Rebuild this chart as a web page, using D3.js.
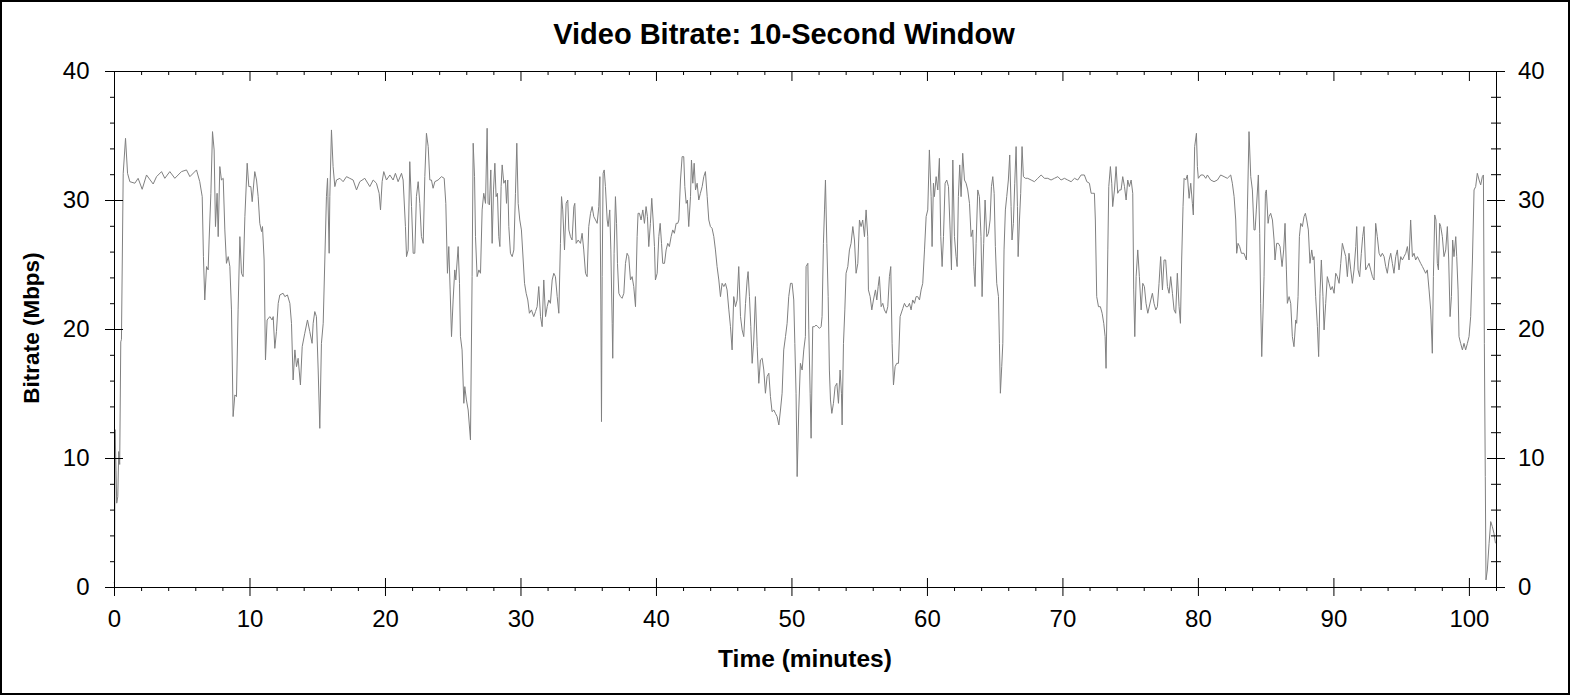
<!DOCTYPE html>
<meta charset="utf-8">
<body style="margin:0; background:#fff">
<script src="https://cdn.jsdelivr.net/npm/d3@7"></script>
<div id="chart"></div>
<script>

 var title = "Video Bitrate: 10-Second Window";
 var xLabel = "Time (minutes)";
 var yLabel = "Bitrate (Mbps)";

 var xMajor = [0, 10, 20, 30, 40, 50, 60, 70, 80, 90, 100];
 var xMinor = d3.range(0, 103, 2).filter(d => d % 10 != 0);
 var yMajor = [0, 10, 20, 30, 40];
 var yMinor = d3.range(0, 41, 2).filter(d => d % 10 != 0);

 // [minutes, Mbps]
 var part1 = [[0.00,0.3],[0.04,0.4],[0.08,12.2],[0.15,9],[0.2,6.5],[0.28,7],[0.35,10.5],[0.42,9.5],[0.5,19],
  [0.55,19.2],[0.68,32.07],[0.85,34.78],[1.00,32.07],[1.17,31.42],[1.54,31.30],[1.78,31.68],[2.08,30.83],[2.40,31.94],
  [2.89,31.24],[3.14,31.81],[3.51,32.20],[3.75,31.68],[4.12,32.20],[4.49,31.68],[4.98,32.20],[5.35,32.33],[5.60,31.81],
  [6.09,32.33],[6.33,31.42],[6.51,30.26],[6.60,25.61],[6.70,22.25],[6.83,24.84],[6.95,24.58],[7.02,26.90],[7.15,30.52],
  [7.27,35.30],[7.39,33.88],[7.49,27.94],[7.61,30.52],[7.69,27.16],[7.81,32.59],[7.93,31.55],[8.06,31.68],[8.18,27.68],
  [8.30,25.09],[8.43,25.61],[8.55,24.84],[8.67,21.48],[8.79,13.21],[8.92,14.89],[9.04,14.76],[9.16,21.48],[9.29,27.16],
  [9.41,24.32],[9.53,24.06],[9.66,28.71],[9.83,32.85],[9.95,31.04],[10.10,31.04],[10.20,29.87],[10.39,32.20],[10.52,31.55],
  [10.64,30.26],[10.76,28.19],[10.89,27.55],[10.96,27.94],[11.08,25.35],[11.18,17.60],[11.30,20.70],[11.50,20.96],
  [11.67,20.70],[11.75,20.96],[11.87,18.50],[11.99,19.80],[12.12,21.99],[12.24,22.64],[12.48,22.77],[12.61,22.51],
  [12.80,22.64],[12.98,21.99],[13.10,20.44],[13.22,16.05],[13.35,18.38],[13.47,17.08],[13.59,17.73],[13.76,15.66],
  [13.89,18.63],[14.08,19.67],[14.28,20.70],[14.45,19.80],[14.62,18.89],[14.70,20.44],[14.82,21.35],[14.94,20.96],
  [15.07,16.82],[15.19,12.30],[15.31,18.89],[15.44,20.44],[15.56,25.35],[15.68,30.26],[15.76,31.68],[15.88,25.87],
  [15.93,30.26],[16.05,35.43],[16.17,32.59],[16.30,31.04],[16.42,31.55],[16.67,31.68],[16.91,31.42],[17.16,31.81],
  [17.40,31.68],[17.65,31.55],[17.90,30.78],[18.14,31.42],[18.51,31.68],[18.88,31.04],[19.13,31.55],[19.37,31.30],
  [19.57,30.52],[19.67,29.23],[19.79,31.42],[19.91,32.20],[20.11,31.55],[20.36,31.94],[20.60,31.55],[20.77,32.07],
  [20.97,31.42],[21.22,32.07],[21.34,31.55],[21.51,27.94],[21.59,25.61],[21.71,26.13],[21.83,32.97],[21.96,29.49],
  [22.08,25.87],[22.20,25.87],[22.32,30.26],[22.45,31.42],[22.57,29.74],[22.69,27.16],[22.82,26.64],[22.94,31.81],
  [23.06,35.17],[23.19,34.14],[23.31,31.55],[23.43,31.55],[23.55,30.91],[23.68,31.42],[23.92,31.55],[24.17,31.81],
  [24.37,31.68],[24.49,29.74],[24.61,24.32],[24.71,26.39],[24.81,23.03],[24.91,19.41],[25.03,22.25],[25.15,24.58],
  [25.23,23.80],[25.40,26.39]];

 var part2 = [[25.50,23.54],[25.57,19.41],[25.69,18.38],[25.82,14.24],[25.89,15.53],[26.01,14.50],[26.14,13.72],
  [26.31,11.40],[26.43,24.06],[26.51,34.40],[26.61,31.81],[26.68,27.16],[26.80,24.06],[26.93,24.58],[27.05,24.32],
  [27.17,29.23],[27.29,30.52],[27.42,29.74],[27.54,35.56],[27.61,29.74],[27.71,29.62],[27.81,32.33],[27.91,26.64],
  [28.01,30.78],[28.11,32.85],[28.20,30.26],[28.30,30.52],[28.40,27.16],[28.48,26.39],[28.57,31.04],[28.65,32.72],
  [28.77,31.30],[28.89,31.55],[28.97,29.74],[29.06,31.55],[29.14,27.94],[29.26,25.87],[29.39,25.61],[29.51,26.13],
  [29.63,30.52],[29.73,34.40],[29.83,29.74],[29.95,28.45],[30.07,27.68],[30.20,25.35],[30.30,23.54],[30.42,22.77],
  [30.54,22.25],[30.66,21.22],[30.81,21.48],[30.98,20.96],[31.11,21.35],[31.23,21.73],[31.35,23.29],[31.48,20.96],
  [31.60,20.18],[31.72,23.80],[31.85,20.96],[31.97,21.73],[32.09,22.25],[32.21,21.99],[32.34,23.80],[32.46,24.32],
  [32.58,24.06],[32.71,22.51],[32.83,21.22],[32.95,26.64],[33.03,30.26],[33.12,29.23],[33.25,26.13],[33.37,29.74],
  [33.49,30.0],[33.57,27.68],[33.69,27.16],[33.81,26.90],[33.94,29.49],[34.01,29.74],[34.11,26.64],[34.26,26.90],
  [34.43,26.64],[34.55,27.42],[34.67,26.13],[34.80,24.32],[34.92,24.06],[35.04,27.94],[35.17,28.97],[35.29,29.49],
  [35.41,28.71],[35.54,28.45],[35.66,28.19],[35.78,29.49],[35.86,31.81],[35.93,22.25],[35.98,12.82],[36.03,24.06],
  [36.10,32.07],[36.18,32.33],[36.27,31.04],[36.40,28.45],[36.47,27.94],[36.59,29.23],[36.67,26.13],[36.77,20.44],
  [36.81,17.73],[36.91,25.87],[37.01,30.26],[37.09,28.19],[37.16,25.09],[37.26,22.77],[37.38,22.51],[37.50,22.38],
  [37.63,22.77],[37.75,25.09],[37.87,25.87],[37.99,25.61],[38.12,23.80],[38.24,24.06],[38.36,23.29],[38.49,21.73],
  [38.61,27.16],[38.68,28.97],[38.78,28.97],[38.90,28.45],[39.03,29.23],[39.15,28.19],[39.27,29.49],[39.37,28.71],
  [39.47,26.39],[39.59,28.19],[39.69,30.13],[39.79,28.45],[39.89,26.39],[39.96,23.80],[40.09,24.32],[40.21,27.16],
  [40.31,28.19],[40.41,26.64],[40.50,25.09],[40.63,25.09],[40.75,26.13],[40.87,26.64],[40.99,26.39],[41.12,27.16],
  [41.24,27.68],[41.36,27.42],[41.49,28.19],[41.61,28.19],[41.69,28.45],[41.81,31.55],[41.93,33.36],[42.05,33.36],
  [42.13,31.04],[42.23,29.74],[42.32,30.0],[42.42,27.94],[42.55,30.26],[42.62,33.10],[42.72,31.30],[42.82,32.85],
  [42.92,30.78],[43.04,31.30],[43.16,30.0],[43.28,30.52],[43.41,31.04],[43.53,31.81],[43.65,32.20],[43.78,30.26],
  [43.90,28.45],[44.02,27.94],[44.14,27.81],[44.27,27.16],[44.39,26.13],[44.51,24.84],[44.64,23.80],[44.76,22.51],
  [44.88,23.54],[45.01,23.29],[45.13,23.54],[45.25,23.03],[45.38,21.48],[45.50,20.18],[45.62,18.38],[45.74,22.51],
  [45.87,21.73],[45.99,22.25],[46.11,24.84],[46.24,20.96],[46.36,19.93],[46.48,19.41],[46.61,21.99],[46.73,23.80],
  [46.80,24.45],[46.90,22.51],[47.00,20.18],[47.10,17.34],[47.22,19.15],[47.34,22.51],[47.47,18.63],[47.59,15.79],
  [47.71,17.60],[47.84,17.73],[47.96,16.82],[48.08,15.02],[48.20,16.31],[48.33,16.57],[48.45,14.76],[48.57,13.59],
  [48.70,13.72],[48.82,13.46],[48.94,13.21],[49.07,12.56],[49.19,13.72],[49.31,15.02],[49.43,18.38],[49.56,19.41],
  [49.68,20.44],[49.80,22.51],[49.93,23.54],[50.05,23.54],[50.17,22.25],[50.25,18.89],[50.34,15.02],[50.42,8.56],
  [50.54,13.72],[50.66,17.34],[50.79,16.82],[50.91,18.38],[51.03,19.41]];

 var part3 = [[51.08,24.84],[51.21,25.09],[51.28,19.93],[51.38,15.02],[51.45,11.53],[51.57,20.18],[51.70,20.18],
  [51.82,20.31],[51.94,20.18],[52.07,20.05],[52.19,20.18],[52.26,20.96],[52.36,26.64],[52.44,29.23],[52.51,31.55],
  [52.61,26.64],[52.71,22.51],[52.80,16.82],[52.88,14.50],[52.98,13.46],[53.10,14.24],[53.22,15.53],[53.35,15.79],
  [53.47,14.24],[53.59,16.82],[53.69,15.02],[53.74,12.56],[53.84,18.89],[53.94,21.48],[54.03,24.32],[54.16,24.84],
  [54.28,26.13],[54.40,26.64],[54.53,27.94],[54.65,26.90],[54.77,24.32],[54.90,25.09],[55.02,28.45],[55.14,27.94],
  [55.26,28.45],[55.39,27.16],[55.51,29.23],[55.63,27.16],[55.68,23.03],[55.81,22.51],[55.93,21.48],[56.05,22.25],
  [56.20,23.03],[56.30,22.25],[56.40,23.29],[56.49,24.06],[56.62,21.73],[56.74,21.99],[56.86,21.48],[56.99,21.22],
  [57.11,21.73],[57.23,24.06],[57.33,24.84],[57.43,18.89],[57.53,15.66],[57.65,17.08],[57.77,17.34],[57.90,17.34],
  [58.02,20.96],[58.22,21.60],[58.34,21.99],[58.46,21.73],[58.59,21.73],[58.71,21.99],[58.83,21.48],[58.95,22.25],
  [59.08,21.99],[59.20,22.51],[59.32,22.51],[59.45,22.25],[59.57,23.03],[59.69,23.54],[59.82,26.13],[59.94,28.71],
  [60.06,29.23],[60.18,33.88],[60.31,30.26],[60.38,26.39],[60.48,31.30],[60.55,30.26],[60.68,31.81],[60.80,30.78],
  [60.92,33.23],[61.02,27.16],[61.12,24.84],[61.22,27.16],[61.34,31.30],[61.46,31.55],[61.59,31.04],[61.71,27.68],
  [61.81,24.58],[61.91,33.10],[62.03,27.16],[62.15,25.61],[62.23,24.84],[62.32,30.26],[62.42,32.72],[62.52,30.26],
  [62.64,33.62],[62.77,31.55],[62.89,31.30],[63.01,30.78],[63.14,29.74],[63.26,27.16],[63.38,27.68],[63.46,24.84],
  [63.55,23.29],[63.63,26.64],[63.75,30.78],[63.87,30.26],[63.99,27.16],[64.07,22.51],[64.19,26.64],[64.29,30.0],
  [64.42,27.16],[64.54,27.42],[64.66,28.45],[64.76,31.04],[64.86,31.81],[64.96,30.52],[65.05,26.39],[65.15,23.54],
  [65.28,22.51],[65.35,18.89],[65.42,15.02],[65.52,17.08],[65.60,18.89],[65.69,26.13],[65.79,29.23],[65.89,30.26],
  [66.01,31.55],[66.11,33.49],[66.21,29.49],[66.28,26.90],[66.38,28.19],[66.48,31.30],[66.58,34.14],[66.68,29.49],
  [66.73,25.61],[66.83,28.45],[66.92,30.52],[67.02,34.14],[67.12,31.81],[67.27,31.68],[67.44,31.68],[67.69,31.55],
  [67.93,31.42],[68.18,31.68],[68.43,31.94],[68.67,31.68],[68.92,31.68],[69.16,31.55],[69.41,31.68],[69.66,31.81],
  [69.90,31.55],[70.15,31.68],[70.39,31.55],[70.64,31.42],[70.89,31.68],[71.13,31.55],[71.38,31.94],[71.62,31.94],
  [71.80,31.42],[71.99,31.30],[72.12,30.52],[72.24,30.52],[72.36,30.52],[72.43,28.45],[72.53,22.51],[72.66,21.73],
  [72.80,21.73],[72.93,21.22],[73.05,20.44],[73.15,19.41],[73.22,16.95],[73.35,26.13],[73.42,31.04],[73.54,32.59],
  [73.64,31.30],[73.71,29.49],[73.84,30.78],[73.96,32.59],[74.08,30.52],[74.21,30.78],[74.33,30.78],[74.45,31.81],
  [74.58,31.04],[74.70,30.0],[74.82,31.55],[74.94,31.04],[75.07,31.55],[75.19,30.52],[75.26,23.03],[75.34,19.41],
  [75.44,24.06],[75.56,26.13],[75.68,24.06],[75.81,21.48],[75.93,23.54],[76.05,23.29],[76.17,21.99],[76.30,21.22]];

 var part4 = [[76.52,22.25],[76.64,22.77],[76.76,21.99],[76.89,21.48],[77.01,21.73],[77.13,23.54],[77.25,25.61],
  [77.38,23.03],[77.50,25.35],[77.62,25.35],[77.75,23.29],[77.87,22.77],[77.99,24.06],[78.12,22.77],[78.24,21.48],
  [78.36,21.22],[78.48,24.32],[78.61,21.73],[78.71,20.44],[78.80,25.35],[78.90,29.49],[78.98,31.68],[79.10,31.55],
  [79.22,31.94],[79.35,30.13],[79.47,31.30],[79.59,29.74],[79.66,28.84],[79.76,34.14],[79.89,35.17],[79.96,32.59],
  [80.03,31.68],[80.21,31.94],[80.40,31.94],[80.58,31.68],[80.70,31.94],[80.94,31.55],[81.19,31.42],[81.44,31.55],
  [81.68,31.94],[81.93,31.81],[82.17,31.68],[82.42,31.94],[82.54,31.30],[82.67,30.26],[82.79,28.45],[82.86,25.87],
  [82.96,26.64],[83.08,26.39],[83.21,25.87],[83.40,25.87],[83.58,25.35],[83.65,29.23],[83.77,35.30],[83.90,31.81],
  [84.02,30.78],[84.14,27.68],[84.22,27.68],[84.31,29.23],[84.46,31.94],[84.56,27.42],[84.63,21.99],[84.71,17.86],
  [84.81,21.48],[84.88,24.06],[84.98,30.52],[85.05,30.78],[85.18,28.19],[85.25,28.71],[85.37,28.97],[85.50,28.45],
  [85.62,26.90],[85.69,25.35],[85.81,26.64],[85.94,26.64],[86.06,26.39],[86.21,24.84],[86.33,26.13],[86.43,28.19],
  [86.53,24.58],[86.60,21.99],[86.73,22.51],[86.85,21.99],[86.97,19.41],[87.09,18.63],[87.22,20.70],[87.29,20.44],
  [87.39,22.51],[87.49,27.16],[87.59,28.19],[87.71,27.94],[87.83,28.71],[87.93,28.97],[88.03,28.45],[88.15,27.68],
  [88.27,25.09],[88.40,26.13],[88.50,25.35],[88.57,25.61],[88.69,22.51],[88.82,20.18],[88.91,17.86],[89.01,22.77],
  [89.11,25.35],[89.23,22.51],[89.31,19.93],[89.43,21.99],[89.55,24.06],[89.68,23.54],[89.80,23.03],[89.92,23.29],
  [90.05,22.77],[90.17,24.32],[90.29,24.06],[90.42,23.54],[90.54,25.09],[90.66,26.64],[90.78,26.13],[90.91,25.61],
  [91.03,24.06],[91.15,25.87],[91.28,24.58],[91.40,23.54],[91.52,24.58],[91.65,26.39],[91.72,27.94],[91.82,24.58],
  [91.94,24.06],[92.06,25.87],[92.16,27.16],[92.26,27.94],[92.38,24.58],[92.51,24.84],[92.63,25.09],[92.75,24.58],
  [92.88,24.06],[93.00,23.80],[93.12,28.19],[93.24,27.16],[93.37,25.87],[93.49,25.61],[93.61,25.87],[93.74,25.61],
  [93.86,24.84],[93.98,24.32],[94.11,25.35],[94.23,25.87],[94.35,25.09],[94.47,24.32],[94.60,25.61],[94.72,26.13],
  [94.84,24.58],[94.97,25.61],[95.09,25.35],[95.21,25.61],[95.34,25.87],[95.46,26.39],[95.58,25.35],[95.70,28.45],
  [95.83,25.61],[95.95,25.87],[96.07,25.35],[96.20,25.61],[96.32,25.35],[96.44,25.09],[96.57,24.84],[96.69,24.58],
  [96.81,24.32],[96.93,24.58],[97.06,23.03],[97.18,21.48],[97.30,18.12],[97.38,24.06],[97.48,28.84],[97.57,28.45],
  [97.67,25.09],[97.75,24.58],[97.84,28.19],[97.92,27.94],[98.04,27.16],[98.16,25.61],[98.29,26.13],[98.41,27.94],
  [98.51,25.35],[98.61,20.96],[98.71,22.51],[98.80,26.90],[98.90,25.61],[99.03,27.16],[99.10,25.61],[99.20,23.03],
  [99.27,19.41],[99.39,18.89],[99.52,18.38],[99.64,18.89],[99.76,18.38],[99.89,18.89],[100.01,19.41],[100.13,20.96],
  [100.26,25.35],[100.38,30.78],[100.50,31.04],[100.62,32.07],[100.75,31.55],[100.87,31.17],[100.99,31.81],
  [101.07,31.94],[101.14,18.89],[101.21,8.56],[101.26,0.55],[101.36,1.32],[101.49,3.39],[101.61,5.07],[101.73,4.68],
  [101.85,4.16],[101.96,3.39]];

 var bitrate = part1.concat(part2, part3, part4);

 var width = 1570, height = 695;
 var font = "'Liberation Sans', Arial, sans-serif";

 var x = d3.scaleLinear().domain([0, 102]).range([114, 1496]);
 var y = d3.scaleLinear().domain([0, 40]).range([587, 71]);

 const svg = d3.select('#chart').append('svg')
               .attr('width', width)
               .attr('height', height)
               .attr('font-family', font);

 // outer frame
 svg.append('rect')
    .attr('x', 1).attr('y', 1)
    .attr('width', width - 2).attr('height', height - 2)
    .attr('fill', 'white')
    .attr('stroke', 'black')
    .attr('stroke-width', 2);

 // data line first, axes drawn over it
 svg.append('path')
    .datum(bitrate)
    .attr('fill', 'none')
    .attr('stroke', '#808080')
    .attr('stroke-width', 1)
    .attr('d', d3.line().x(d => x(d[0])).y(d => y(d[1])));

 function axisG(axis, tx, ty) {
     var g = svg.append('g')
                .attr('transform', 'translate(' + tx + ',' + ty + ')')
                .call(axis);
     g.attr('font-family', font).attr('font-size', 24);
     g.selectAll('line, path').attr('stroke', 'black');
     g.selectAll('text').attr('fill', 'black');
     return g;
 }

 // bottom: minor outward, major crossing
 axisG(d3.axisBottom(x).tickValues(xMinor).tickSize(4).tickSizeOuter(0).tickFormat(''), 0, 587);
 axisG(d3.axisBottom(x).tickValues(xMajor).tickSize(-9).tickSizeOuter(0).tickFormat(''), 0, 587);
 axisG(d3.axisBottom(x).tickValues(xMajor).tickSize(9).tickSizeOuter(0), 0, 587)
     .selectAll('text').attr('y', 23);

 // top: ticks inward only
 axisG(d3.axisTop(x).tickValues(xMinor).tickSize(-4).tickSizeOuter(0).tickFormat(''), 0, 71);
 axisG(d3.axisTop(x).tickValues(xMajor).tickSize(-10).tickSizeOuter(0).tickFormat(''), 0, 71);

 // left: minor outward, major crossing
 axisG(d3.axisLeft(y).tickValues(yMinor).tickSize(4).tickSizeOuter(0).tickFormat(''), 114, 0);
 axisG(d3.axisLeft(y).tickValues(yMajor).tickSize(-9).tickSizeOuter(0).tickFormat(''), 114, 0);
 axisG(d3.axisLeft(y).tickValues(yMajor).tickSize(9).tickSizeOuter(0), 114, 0)
     .selectAll('text').attr('x', -24.5);

 // right: minor and major both crossing
 axisG(d3.axisRight(y).tickValues(yMinor).tickSize(5).tickSizeOuter(0).tickFormat(''), 1496, 0);
 axisG(d3.axisRight(y).tickValues(yMinor).tickSize(-5).tickSizeOuter(0).tickFormat(''), 1496, 0);
 axisG(d3.axisRight(y).tickValues(yMajor).tickSize(-9).tickSizeOuter(0).tickFormat(''), 1496, 0);
 axisG(d3.axisRight(y).tickValues(yMajor).tickSize(9).tickSizeOuter(0), 1496, 0)
     .selectAll('text').attr('x', 22);

 svg.append('text')
    .attr('x', 784).attr('y', 44)
    .attr('text-anchor', 'middle')
    .attr('font-size', 29).attr('font-weight', 'bold')
    .text(title);

 svg.append('text')
    .attr('x', 805).attr('y', 667)
    .attr('text-anchor', 'middle')
    .attr('font-size', 24.5).attr('font-weight', 'bold')
    .text(xLabel);

 svg.append('text')
    .attr('transform', 'translate(38.5,328) rotate(-90)')
    .attr('text-anchor', 'middle')
    .attr('font-size', 22.5).attr('font-weight', 'bold')
    .text(yLabel);

</script>
